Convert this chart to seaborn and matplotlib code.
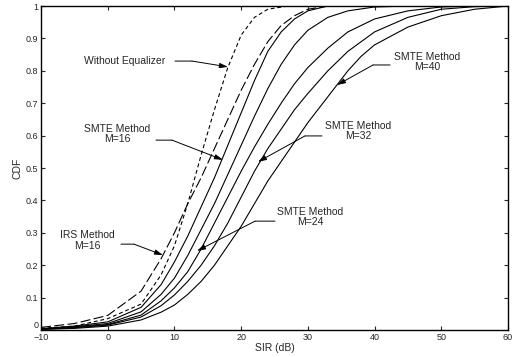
import matplotlib
matplotlib.use("Agg")
import matplotlib.pyplot as plt
import seaborn as sns
import pandas as pd

# ---------------- data ----------------
we_x = [-10, -5, 0, 5, 8, 10, 12, 14, 16, 18, 20, 22, 24, 27]
we_y = [0.005, 0.012, 0.035, 0.08, 0.17, 0.26, 0.39, 0.54, 0.68, 0.81, 0.91, 0.965, 0.99, 1.0]

irs_x = [-10, -5, 0, 5, 8, 10, 12, 14, 16, 18, 20, 22, 24, 26, 28, 30, 33]
irs_y = [0.008, 0.02, 0.045, 0.12, 0.22, 0.30, 0.39, 0.47, 0.56, 0.65, 0.74, 0.82, 0.89, 0.94, 0.97, 0.99, 1.0]

m16_x = [-10, -5, 0, 5, 8, 10, 12, 14, 16, 18, 20, 22, 24, 26, 28, 30, 33]
m16_y = [0.004, 0.012, 0.025, 0.07, 0.14, 0.21, 0.29, 0.38, 0.47, 0.57, 0.67, 0.77, 0.86, 0.92, 0.96, 0.985, 1.0]

s2_x = [-10, -5, 0, 5, 8, 10, 12, 14, 16, 18, 20, 22, 24, 26, 28, 30, 33, 36, 40, 45]
s2_y = [0.003, 0.01, 0.02, 0.056, 0.11, 0.16, 0.23, 0.31, 0.39, 0.48, 0.57, 0.66, 0.745, 0.82, 0.88, 0.925, 0.965, 0.985, 0.997, 1.0]

m24_x = [-10, -5, 0, 5, 8, 10, 12, 14, 16, 18, 20, 22, 24, 26, 28, 30, 33, 36, 40, 45, 50, 55]
m24_y = [0.003, 0.008, 0.017, 0.046, 0.09, 0.13, 0.18, 0.25, 0.33, 0.41, 0.49, 0.565, 0.635, 0.70, 0.76, 0.81, 0.87, 0.92, 0.96, 0.985, 0.997, 1.0]

m32_x = [-10, -5, 0, 5, 8, 10, 12, 14, 16, 18, 20, 22, 24, 26, 28, 30, 33, 36, 40, 45, 50, 55, 60]
m32_y = [0.002, 0.007, 0.015, 0.04, 0.075, 0.108, 0.15, 0.20, 0.26, 0.33, 0.41, 0.49, 0.56, 0.62, 0.68, 0.73, 0.80, 0.86, 0.92, 0.965, 0.99, 0.998, 1.0]

m40_x = [-10, -5, 0, 5, 8, 10, 12, 14, 16, 18, 20, 22, 24, 26, 28, 30, 33, 36, 38, 40, 45, 50, 55, 60]
m40_y = [0.002, 0.005, 0.012, 0.031, 0.055, 0.077, 0.11, 0.15, 0.20, 0.26, 0.32, 0.39, 0.46, 0.52, 0.58, 0.64, 0.72, 0.80, 0.845, 0.88, 0.935, 0.97, 0.99, 1.0]

curve_names = ["Without Equalizer", "IRS M=16", "SMTE M=16", "SMTE a",
               "SMTE M=24", "SMTE M=32", "SMTE M=40"]
xticks = [-10, 0, 10, 20, 30, 40, 50, 60]
yticks = [0, 0.1, 0.2, 0.3, 0.4, 0.5, 0.6, 0.7, 0.8, 0.9, 1]
ytick_labels = ["0", "0.1", "0.2", "0.3", "0.4", "0.5", "0.6", "0.7", "0.8", "0.9", "1"]

series = [(we_x, we_y), (irs_x, irs_y), (m16_x, m16_y), (s2_x, s2_y),
          (m24_x, m24_y), (m32_x, m32_y), (m40_x, m40_y)]
rows = []
for name, (xs, ys) in zip(curve_names, series):
    for a, b in zip(xs, ys):
        rows.append({"curve": name, "SIR": a, "CDF": b})
df = pd.DataFrame(rows)

# ---------------- plot ----------------
sns.set_style("white")
plt.rcParams["font.family"] = ["Liberation Sans", "DejaVu Sans"]

fig = plt.figure(figsize=(5.15, 3.57), dpi=100)
ax = fig.add_axes([41 / 515, 1 - 330 / 357, 467 / 515, 324 / 357])

dash_map = {
    "Without Equalizer": (3.5, 2.5),
    "IRS M=16": (9, 3),
    "SMTE M=16": "",
    "SMTE a": "",
    "SMTE M=24": "",
    "SMTE M=32": "",
    "SMTE M=40": "",
}
sns.lineplot(data=df, x="SIR", y="CDF", hue="curve", style="curve",
             palette={n: "black" for n in curve_names}, dashes=dash_map,
             linewidth=0.8, legend=False, ax=ax, estimator=None, sort=False)

ax.set_xlim(-10, 60)
ax.set_ylim(0, 1)
ax.set_xticks(xticks)
ax.set_yticks(yticks)
ax.set_yticklabels(ytick_labels)
ax.tick_params(direction="in", length=3, width=0.8, labelsize=6.5,
               top=True, right=True, bottom=True, left=True, pad=2)
# raise the y "0" label so it sits just above the x "-10" label, as in the reference
ax.yaxis.get_major_ticks()[0].label1.set_verticalalignment("bottom")
for s in ax.spines.values():
    s.set_linewidth(1.0)
    s.set_color("black")
ax.set_xlabel("SIR (dB)", fontsize=7.5, labelpad=1)
ax.set_ylabel("CDF", fontsize=7.5, labelpad=2)

# ---------------- annotations ----------------
labels = [
    ("Without Equalizer", (2.59, 0.830), (10.09, 0.830), (12.64, 0.830), (18.03, 0.812)),
    ("SMTE Method\nM=16", (1.39, 0.605), (7.24, 0.586), (9.64, 0.586), (17.28, 0.525)),
    ("IRS Method\nM=16", (-3.10, 0.275), (1.99, 0.265), (3.94, 0.265), (8.29, 0.231)),
    ("SMTE Method\nM=24", (30.32, 0.349), (25.08, 0.336), (22.08, 0.336), (13.39, 0.244)),
    ("SMTE Method\nM=32", (37.52, 0.614), (32.12, 0.599), (29.57, 0.599), (22.53, 0.519)),
    ("SMTE Method\nM=40", (47.86, 0.827), (42.32, 0.818), (39.77, 0.818), (34.37, 0.756)),
]
for txt, tpos, start, corner, tip in labels:
    ax.text(tpos[0], tpos[1], txt, ha="center", va="center", fontsize=7.5,
            multialignment="center", linespacing=1.1)
    ax.annotate("", xy=corner, xytext=start,
                arrowprops=dict(arrowstyle="-", lw=0.7, color="black",
                                shrinkA=0, shrinkB=0))
    ax.annotate("", xy=tip, xytext=corner,
                arrowprops=dict(arrowstyle="-|>,head_length=0.5,head_width=0.15",
                                lw=0.7, color="black", shrinkA=0, shrinkB=0))

fig.savefig("out.png", dpi=100)
